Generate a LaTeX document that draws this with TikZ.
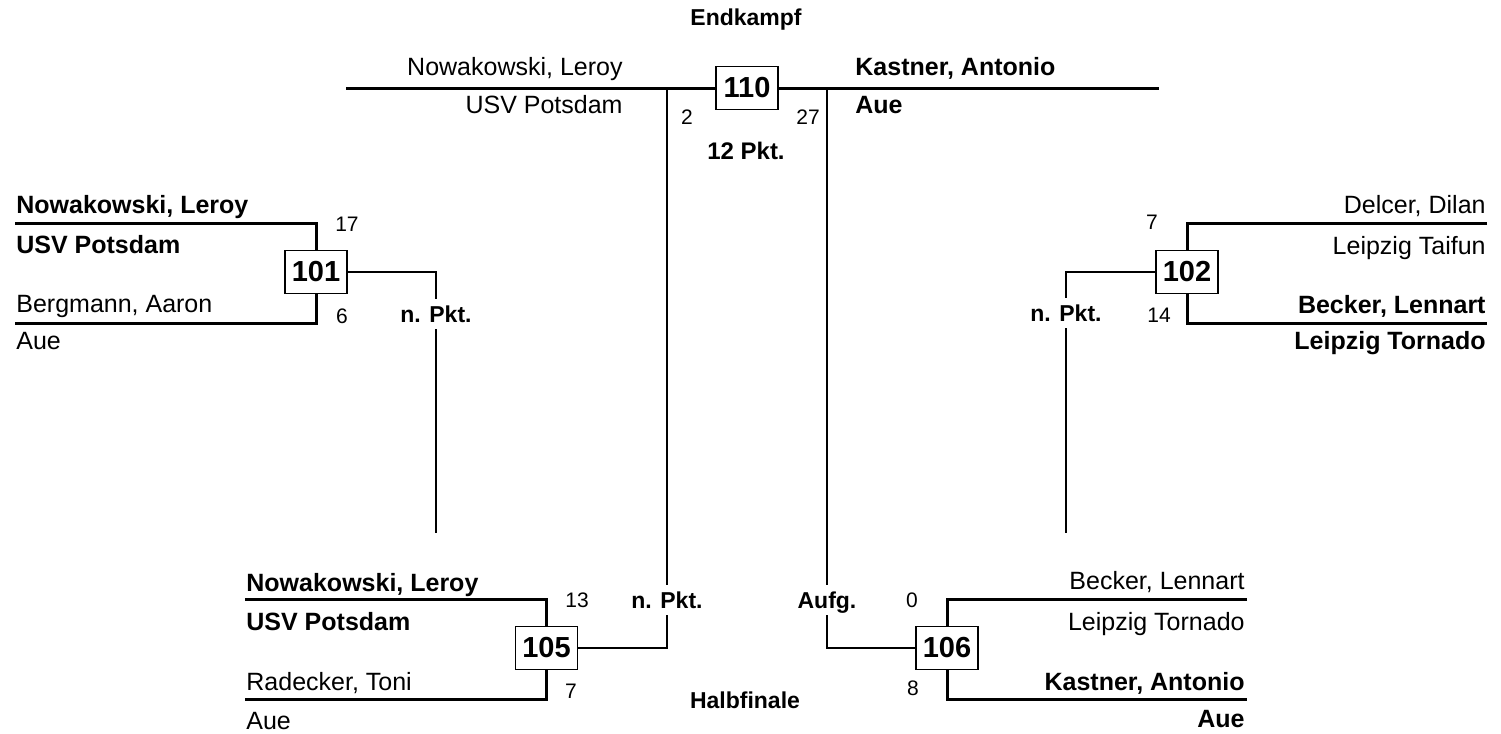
\documentclass[tikz,border=0pt]{standalone}
\usepackage{fontspec}
\setmainfont{Liberation Sans}
\usepackage{tikz}

\begin{document}
\begin{tikzpicture}[x=0.5pt,y=-0.5pt]
    \tikzstyle{plain entry}=[inner sep=0pt,font=\fontsize{12.5}{15}\selectfont]
    \tikzstyle{bold entry}=[plain entry,font=\fontsize{12.5}{15}\selectfont\bfseries]
    \tikzstyle{scorelabel}=[inner sep=0pt,font=\fontsize{10.5}{12}\selectfont]
    \tikzstyle{matchbox}=[draw,line width=0.7pt,minimum width=31pt,minimum height=21.5pt,inner sep=0pt,font=\fontsize{14.5}{17}\selectfont\bfseries]
    \tikzstyle{routelabel}=[inner sep=0pt,minimum height=15pt,text height=8.2pt,text depth=0pt,font=\fontsize{11.5}{14}\selectfont\bfseries]
    \tikzstyle{headlabel}=[inner sep=0pt,font=\fontsize{11.5}{14}\selectfont\bfseries]
    \tikzstyle{bracketline}=[line width=1.5pt]
    \tikzstyle{linkline}=[line width=1.2pt]
    \tikzstyle{finalline}=[line width=0.8pt]

    \useasboundingbox (0,0) rectangle (1501,734);

    % Draw the match boxes
    \node[matchbox] (M-101) at (316,272) {101};
    \node[matchbox] (M-102) at (1187,272) {102};
    \node[matchbox] (M-105) at (546.5,648) {105};
    \node[matchbox] (M-106) at (947,648) {106};
    \node[matchbox] (M-110) at (747,88) {110};

    % Free ends of the lines
    \coordinate (L-101a) at (15,223);
    \coordinate (L-101b) at (15,323);
    \coordinate (L-102a) at (1487,223);
    \coordinate (L-102b) at (1487,323);
    \coordinate (L-105a) at (245,599);
    \coordinate (L-105b) at (245,699);
    \coordinate (L-106a) at (1247,599);
    \coordinate (L-106b) at (1247,699);
    \coordinate (L-110a) at (346,88);
    \coordinate (L-110b) at (1159,88);
    \coordinate (J-105) at (667,88);
    \coordinate (J-106) at (827,88);
    \coordinate (E-101) at (436,533);
    \coordinate (E-102) at (1066,533);

    % Results on the connectors
    \node[routelabel] (R-101) at (436,314) {n. Pkt.};
    \node[routelabel] (R-102) at (1066,313) {n. Pkt.};
    \node[routelabel] (R-105) at (667,600) {n. Pkt.};
    \node[routelabel] (R-106) at (827,600) {Aufg.};

    % Brackets
    \draw[bracketline] (L-101a) -| (M-101.north);
    \draw[bracketline] (M-101.south) |- (L-101b);
    \draw[bracketline] (L-102a) -| (M-102.north);
    \draw[bracketline] (M-102.south) |- (L-102b);
    \draw[bracketline] (L-105a) -| (M-105.north);
    \draw[bracketline] (M-105.south) |- (L-105b);
    \draw[bracketline] (L-106a) -| (M-106.north);
    \draw[bracketline] (M-106.south) |- (L-106b);
    \path[bracketline] (L-110a) edge (M-110.west);
    \path[bracketline] (M-110.east) edge (L-110b);

    % Connectors between the rounds
    \draw[linkline] (M-101.east) -| (R-101.north);
    \path[linkline] (R-101.south) edge (E-101);
    \draw[linkline] (M-102.west) -| (R-102.north);
    \path[linkline] (R-102.south) edge (E-102);
    \path[finalline] (J-105) edge (R-105.north);
    \draw[linkline] (R-105.south) |- (M-105.east);
    \path[finalline] (J-106) edge (R-106.north);
    \draw[linkline] (R-106.south) |- (M-106.west);

    % Entries
    \node[bold entry,anchor=base west] (P-101a) at (16,213) {Nowakowski, Leroy};
    \node[bold entry,anchor=base west] (C-101a) at (16,253) {USV Potsdam};
    \node[plain entry,anchor=base west] (P-101b) at (16,312) {Bergmann, Aaron};
    \node[plain entry,anchor=base west] (C-101b) at (16,349) {Aue};
    \node[plain entry,anchor=base east] (P-102a) at (1486,213) {Delcer, Dilan};
    \node[plain entry,anchor=base east] (C-102a) at (1486,254) {Leipzig Taifun};
    \node[bold entry,anchor=base east] (P-102b) at (1486,313) {Becker, Lennart};
    \node[bold entry,anchor=base east] (C-102b) at (1486,349) {Leipzig Tornado};
    \node[bold entry,anchor=base west] (P-105a) at (246,591) {Nowakowski, Leroy};
    \node[bold entry,anchor=base west] (C-105a) at (246,630) {USV Potsdam};
    \node[plain entry,anchor=base west] (P-105b) at (246,690) {Radecker, Toni};
    \node[plain entry,anchor=base west] (C-105b) at (246,729) {Aue};
    \node[plain entry,anchor=base east] (P-106a) at (1245,589) {Becker, Lennart};
    \node[plain entry,anchor=base east] (C-106a) at (1245,630) {Leipzig Tornado};
    \node[bold entry,anchor=base east] (P-106b) at (1245,690) {Kastner, Antonio};
    \node[bold entry,anchor=base east] (C-106b) at (1245,727) {Aue};
    \node[plain entry,anchor=base east] (P-110a) at (623,75) {Nowakowski, Leroy};
    \node[plain entry,anchor=base east] (C-110a) at (623,113) {USV Potsdam};
    \node[bold entry,anchor=base west] (P-110b) at (855,75) {Kastner, Antonio};
    \node[bold entry,anchor=base west] (C-110b) at (855,113) {Aue};

    % Scores
    \node[scorelabel] (S-101a) at (347,224) {17};
    \node[scorelabel] (S-101b) at (342,316) {6};
    \node[scorelabel] (S-102a) at (1152,222) {7};
    \node[scorelabel] (S-102b) at (1159,315) {14};
    \node[scorelabel] (S-105a) at (577,600) {13};
    \node[scorelabel] (S-105b) at (571,691) {7};
    \node[scorelabel] (S-106a) at (912,600) {0};
    \node[scorelabel] (S-106b) at (913,688) {8};
    \node[scorelabel] (S-110a) at (687,117) {2};
    \node[scorelabel] (S-110b) at (808,117) {27};

    % Round names
    \node[headlabel] (H-final) at (746,20) {Endkampf};
    \node[headlabel,font=\fontsize{12}{14}\selectfont\bfseries] (H-points) at (746,151) {12 Pkt.};
    \node[headlabel] (H-semi) at (745,700) {Halbfinale};
\end{tikzpicture}
\end{document}
